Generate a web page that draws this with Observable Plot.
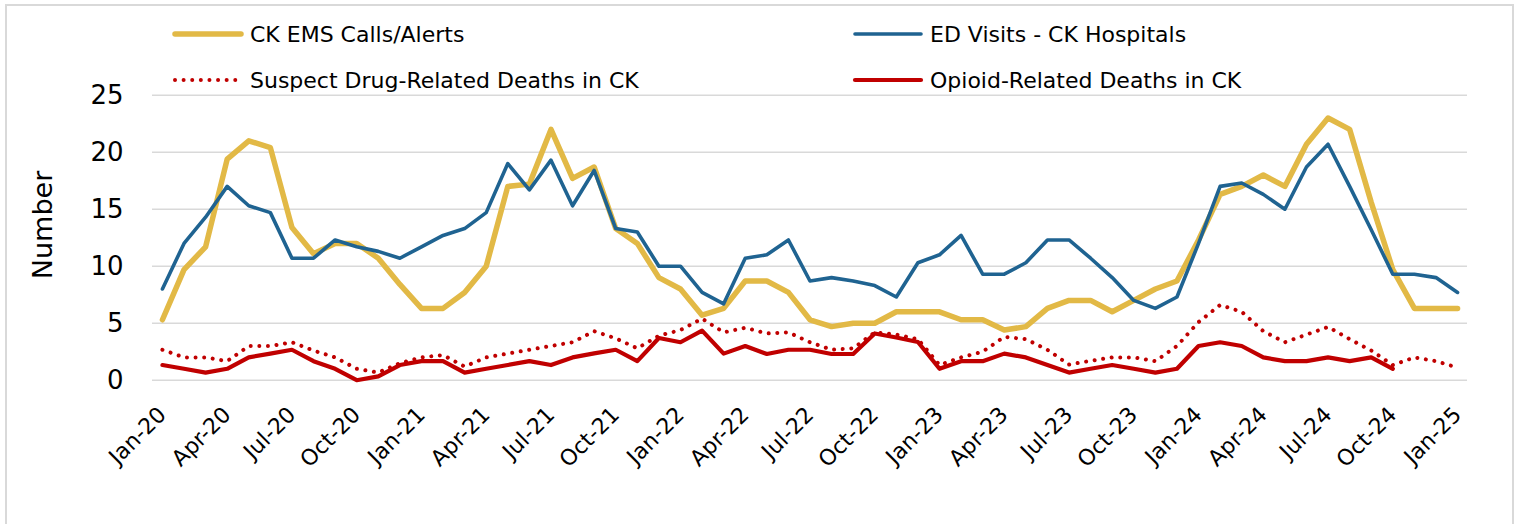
<!DOCTYPE html>
<html>
<head>
<meta charset="utf-8">
<script src="https://cdn.jsdelivr.net/npm/d3@7"></script>
<script src="https://cdn.jsdelivr.net/npm/@observablehq/plot@0.6"></script>
<style>
  body { margin: 0; background: #fff; font-family: "DejaVu Sans", sans-serif; }
  #wrap { position: relative; width: 1520px; height: 524px; overflow: hidden; background: #fff; }
  #frame { position: absolute; left: 5px; top: 4px; width: 1509px; height: 600px; border: 2px solid #D9D9D9; box-sizing: border-box; }
  #chart { position: absolute; left: 0; top: 0; }
  .item { position: absolute; display: flex; align-items: center; font-size: 22px; color: #000; white-space: nowrap; z-index: 2; }
  .item svg { margin-right: 6px; display: block; }
  #ylabel { position: absolute; left: 42px; top: 225px; transform: translate(-50%, -50%) rotate(-90deg); font-size: 27px; line-height: 1; white-space: nowrap; color: #000; z-index: 2; }
</style>
</head>
<body>
<div id="wrap">
  <div id="frame"></div>
  <div id="chart"></div>
  <div id="legend"></div>
  <div id="ylabel"></div>
</div>
<script>
// Month index 0 = Jan-20 ... 60 = Jan-25
const tickIdx = [0, 3, 6, 9, 12, 15, 18, 21, 24, 27, 30, 33, 36, 39, 42, 45, 48, 51, 54, 57, 60];
const tickLabels = ["Jan-20","Apr-20","Jul-20","Oct-20","Jan-21","Apr-21","Jul-21","Oct-21","Jan-22","Apr-22","Jul-22","Oct-22","Jan-23","Apr-23","Jul-23","Oct-23","Jan-24","Apr-24","Jul-24","Oct-24","Jan-25"];
const yTicks = [0, 5, 10, 15, 20, 25];
const yTitle = "Number";

const emsCalls = [5.3, 9.7, 11.7, 19.4, 21.0, 20.4, 13.4, 11.1, 12.0, 12.0, 10.7, 8.4, 6.3, 6.3, 7.7, 10.0, 17.0, 17.2, 22.0, 17.7,
  18.7, 13.3, 12.0, 9.0, 8.0, 5.7, 6.3, 8.7, 8.7, 7.7, 5.3, 4.7, 5.0, 5.0, 6.0, 6.0, 6.0, 5.3, 5.3, 4.4,
  4.7, 6.3, 7.0, 7.0, 6.0, 7.0, 8.0, 8.7, 12.3, 16.3, 17.0, 18.0, 17.0, 20.7, 23.0, 22.0, 15.6, 9.7, 6.3, 6.3, 6.3];
const edVisits = [8.0, 12.0, 14.3, 17.0, 15.3, 14.7, 10.7, 10.7, 12.3, 11.7, 11.3, 10.7, 11.7, 12.7, 13.3, 14.7, 19.0, 16.7, 19.3, 15.3,
  18.4, 13.3, 13.0, 10.0, 10.0, 7.7, 6.7, 10.7, 11.0, 12.3, 8.7, 9.0, 8.7, 8.3, 7.3, 10.3, 11.0, 12.7, 9.3, 9.3,
  10.3, 12.3, 12.3, 10.7, 9.0, 7.0, 6.3, 7.3, 12.0, 17.0, 17.3, 16.3, 15.0, 18.7, 20.7, 17.0, 13.2, 9.3, 9.3, 9.0, 7.7];
const suspectDeaths = [2.67, 2.0, 2.0, 1.67, 3.0, 3.0, 3.33, 2.6, 2.0, 1.0, 0.67, 1.5, 2.0, 2.2, 1.2, 2.0, 2.33, 2.67, 3.0, 3.33,
  4.3, 3.67, 2.8, 3.9, 4.4, 5.4, 4.2, 4.6, 4.1, 4.2, 3.33, 2.67, 2.8, 4.2, 4.0, 3.6, 1.33, 2.0, 2.5, 3.8,
  3.6, 2.67, 1.37, 1.7, 2.0, 2.0, 1.67, 3.0, 5.1, 6.6, 6.0, 4.3, 3.33, 4.0, 4.67, 3.6, 2.6, 1.33, 2.0, 1.67, 1.1];
const opioidDeaths = [1.33, 1.0, 0.67, 1.0, 2.0, 2.33, 2.67, 1.67, 1.0, 0.0, 0.33, 1.33, 1.67, 1.67, 0.67, 1.0, 1.33, 1.67, 1.33, 2.0,
  2.35, 2.67, 1.67, 3.7, 3.33, 4.35, 2.33, 3.0, 2.3, 2.67, 2.67, 2.3, 2.3, 4.1, 3.75, 3.35, 1.0, 1.67, 1.67, 2.33,
  2.0, 1.33, 0.67, 1.0, 1.33, 1.0, 0.67, 1.0, 3.0, 3.33, 3.0, 2.0, 1.67, 1.67, 2.0, 1.67, 2.0, 1.0];

const seriesNames = ["CK EMS Calls/Alerts", "ED Visits - CK Hospitals", "Suspect Drug-Related Deaths in CK", "Opioid-Related Deaths in CK"];
const colors = {gold: "#E2B946", blue: "#1F6391", red: "#C00000"};

const chart = Plot.plot({
  width: 1520,
  height: 524,
  marginLeft: 152,
  marginRight: 53,
  marginTop: 94.7,
  marginBottom: 144.3,
  style: {fontFamily: "DejaVu Sans, sans-serif", color: "#000", background: "none", overflow: "visible"},
  x: {domain: [-0.46, 60.46]},
  y: {domain: [0, 25]},
  marks: [
    Plot.gridY(yTicks, {stroke: "#D9D9D9", strokeOpacity: 1, strokeWidth: 1.6}),
    Plot.axisY(yTicks, {tickSize: 0, tickPadding: 29, fontSize: 26, label: null}),
    Plot.axisX(tickIdx, {tickSize: 0, tickPadding: 31, tickRotate: -45, textAnchor: "end", lineAnchor: "middle",
      fontSize: 22, label: null, tickFormat: (d) => tickLabels[tickIdx.indexOf(d)]}),
    Plot.lineY(emsCalls, {stroke: colors.gold, strokeWidth: 5.5, strokeLinejoin: "round", strokeLinecap: "round"}),
    Plot.lineY(edVisits, {stroke: colors.blue, strokeWidth: 3.6, strokeLinejoin: "round", strokeLinecap: "round"}),
    Plot.lineY(suspectDeaths, {stroke: colors.red, strokeWidth: 4, strokeDasharray: "0.01 8.6", strokeLinecap: "round"}),
    Plot.lineY(opioidDeaths, {stroke: colors.red, strokeWidth: 4.2, strokeLinejoin: "round", strokeLinecap: "round"})
  ]
});
document.getElementById("chart").appendChild(chart);
document.getElementById("ylabel").textContent = yTitle;

// Legend (HTML, overlaid at the top of the frame)
const legendItems = [
  {name: seriesNames[0], color: colors.gold, width: 5.5, dash: null, left: 172, top: 34},
  {name: seriesNames[1], color: colors.blue, width: 3.6, dash: null, left: 852, top: 34},
  {name: seriesNames[2], color: colors.red, width: 4, dash: "0.01 8.6", left: 172, top: 80},
  {name: seriesNames[3], color: colors.red, width: 4.2, dash: null, left: 852, top: 80}
];
const legend = document.getElementById("legend");
for (const it of legendItems) {
  const div = document.createElement("div");
  div.className = "item";
  div.style.left = it.left + "px";
  div.style.top = (it.top - 15) + "px";
  div.style.height = "30px";
  div.innerHTML = `<svg width="72" height="12"><line x1="3" y1="6" x2="69" y2="6" stroke="${it.color}" stroke-width="${it.width}" stroke-linecap="round" ${it.dash ? `stroke-dasharray="${it.dash}"` : ""}/></svg><span>${it.name}</span>`;
  legend.appendChild(div);
}
</script>
</body>
</html>
